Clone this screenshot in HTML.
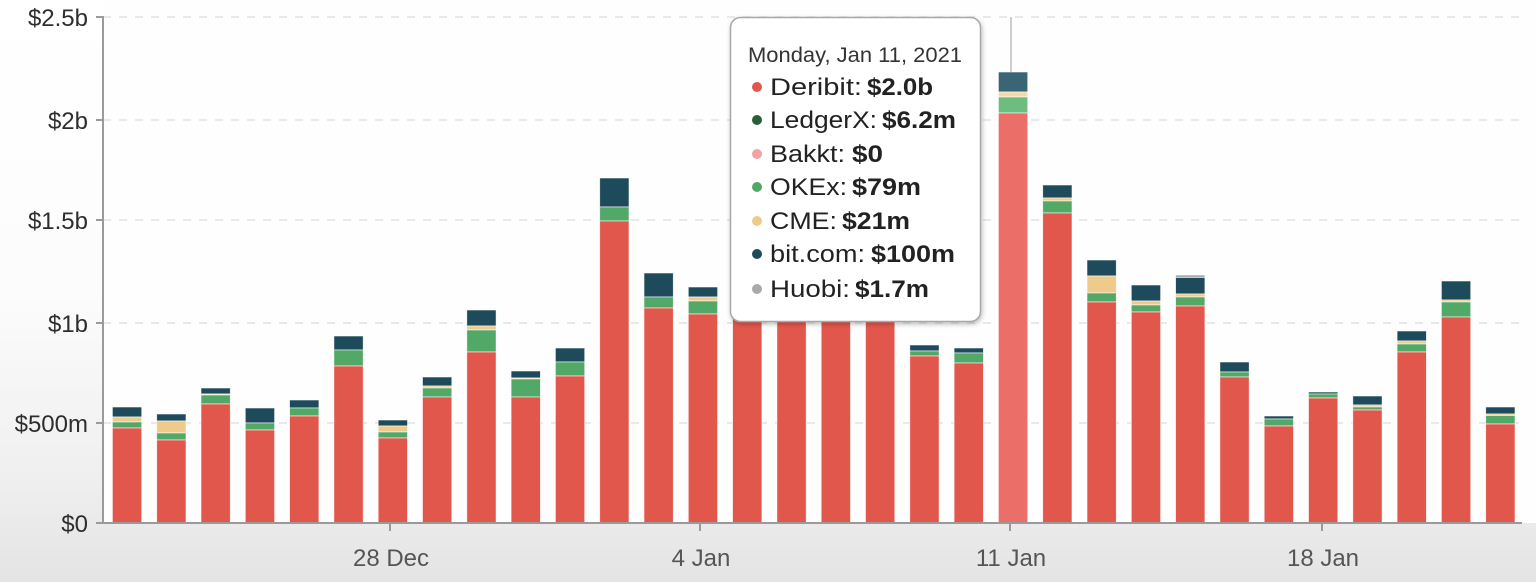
<!DOCTYPE html>
<html><head><meta charset="utf-8"><style>
html,body{margin:0;padding:0;width:1536px;height:582px;overflow:hidden;background:#fff}
svg{display:block}
text{font-family:"Liberation Sans",sans-serif}
</style></head><body>
<svg width="1536" height="582" viewBox="0 0 1536 582" xmlns="http://www.w3.org/2000/svg">
<defs>
<linearGradient id="bg" x1="0" y1="0" x2="0" y2="1">
<stop offset="0" stop-color="#ffffff"/>
<stop offset="0.5" stop-color="#fcfcfc"/>
<stop offset="0.8" stop-color="#f0f0f0"/>
<stop offset="1" stop-color="#e4e4e4"/>
</linearGradient>
<filter id="sh" x="-10%" y="-10%" width="120%" height="120%">
<feDropShadow dx="1" dy="2" stdDeviation="2.5" flood-color="#000" flood-opacity="0.25"/>
</filter>
</defs>
<rect x="0" y="0" width="1536" height="582" fill="url(#bg)"/>
<rect x="103" y="0" width="1433" height="523" fill="#fefefe"/>
<g stroke="#e2e2e2" stroke-width="1.5" stroke-dasharray="8,8">
<line x1="103" y1="17" x2="1522" y2="17"/>
<line x1="103" y1="120" x2="1522" y2="120"/>
<line x1="103" y1="220" x2="1522" y2="220"/>
<line x1="103" y1="323" x2="1522" y2="323"/>
<line x1="103" y1="423" x2="1522" y2="423"/>
</g>
<g stroke="#ffffff" stroke-width="0.8" stroke-opacity="0.7">
<g><rect x="112.4" y="407" width="29.3" height="10" fill="#1e4b5b"/><rect x="112.4" y="417" width="29.3" height="5" fill="#eecb8b"/><rect x="112.4" y="422" width="29.3" height="6" fill="#52a867"/><rect x="112.4" y="428" width="29.3" height="95" fill="#e2574c"/></g>
<g><rect x="156.7" y="414" width="29.3" height="7" fill="#1e4b5b"/><rect x="156.7" y="421" width="29.3" height="12" fill="#eecb8b"/><rect x="156.7" y="433" width="29.3" height="7" fill="#52a867"/><rect x="156.7" y="440" width="29.3" height="83" fill="#e2574c"/></g>
<g><rect x="201.0" y="388" width="29.3" height="6" fill="#1e4b5b"/><rect x="201.0" y="394" width="29.3" height="1" fill="#eecb8b"/><rect x="201.0" y="395" width="29.3" height="9" fill="#52a867"/><rect x="201.0" y="404" width="29.3" height="119" fill="#e2574c"/></g>
<g><rect x="245.3" y="408" width="29.3" height="15" fill="#1e4b5b"/><rect x="245.3" y="423" width="29.3" height="7" fill="#52a867"/><rect x="245.3" y="430" width="29.3" height="93" fill="#e2574c"/></g>
<g><rect x="289.6" y="400" width="29.3" height="8" fill="#1e4b5b"/><rect x="289.6" y="408" width="29.3" height="8" fill="#52a867"/><rect x="289.6" y="416" width="29.3" height="107" fill="#e2574c"/></g>
<g><rect x="333.9" y="336" width="29.3" height="14" fill="#1e4b5b"/><rect x="333.9" y="350" width="29.3" height="16" fill="#52a867"/><rect x="333.9" y="366" width="29.3" height="157" fill="#e2574c"/></g>
<g><rect x="378.2" y="420" width="29.3" height="6" fill="#1e4b5b"/><rect x="378.2" y="426" width="29.3" height="6" fill="#eecb8b"/><rect x="378.2" y="432" width="29.3" height="6" fill="#52a867"/><rect x="378.2" y="438" width="29.3" height="85" fill="#e2574c"/></g>
<g><rect x="422.5" y="377" width="29.3" height="9" fill="#1e4b5b"/><rect x="422.5" y="386" width="29.3" height="2" fill="#eecb8b"/><rect x="422.5" y="388" width="29.3" height="9" fill="#52a867"/><rect x="422.5" y="397" width="29.3" height="126" fill="#e2574c"/></g>
<g><rect x="466.8" y="310" width="29.3" height="16" fill="#1e4b5b"/><rect x="466.8" y="326" width="29.3" height="4" fill="#eecb8b"/><rect x="466.8" y="330" width="29.3" height="22" fill="#52a867"/><rect x="466.8" y="352" width="29.3" height="171" fill="#e2574c"/></g>
<g><rect x="511.1" y="371" width="29.3" height="7" fill="#1e4b5b"/><rect x="511.1" y="378" width="29.3" height="1" fill="#eecb8b"/><rect x="511.1" y="379" width="29.3" height="18" fill="#52a867"/><rect x="511.1" y="397" width="29.3" height="126" fill="#e2574c"/></g>
<g><rect x="555.4" y="348" width="29.3" height="14" fill="#1e4b5b"/><rect x="555.4" y="362" width="29.3" height="14" fill="#52a867"/><rect x="555.4" y="376" width="29.3" height="147" fill="#e2574c"/></g>
<g><rect x="599.7" y="178" width="29.3" height="29" fill="#1e4b5b"/><rect x="599.7" y="207" width="29.3" height="14" fill="#52a867"/><rect x="599.7" y="221" width="29.3" height="302" fill="#e2574c"/></g>
<g><rect x="644.0" y="273" width="29.3" height="24" fill="#1e4b5b"/><rect x="644.0" y="297" width="29.3" height="11" fill="#52a867"/><rect x="644.0" y="308" width="29.3" height="215" fill="#e2574c"/></g>
<g><rect x="688.3" y="287" width="29.3" height="10" fill="#1e4b5b"/><rect x="688.3" y="297" width="29.3" height="4" fill="#eecb8b"/><rect x="688.3" y="301" width="29.3" height="13" fill="#52a867"/><rect x="688.3" y="314" width="29.3" height="209" fill="#e2574c"/></g>
<g><rect x="732.6" y="230" width="29.3" height="293" fill="#e2574c"/></g>
<g><rect x="776.9" y="240" width="29.3" height="283" fill="#e2574c"/></g>
<g><rect x="821.2" y="230" width="29.3" height="293" fill="#e2574c"/></g>
<g><rect x="865.5" y="250" width="29.3" height="273" fill="#e2574c"/></g>
<g><rect x="909.8" y="345" width="29.3" height="6" fill="#1e4b5b"/><rect x="909.8" y="351" width="29.3" height="5" fill="#52a867"/><rect x="909.8" y="356" width="29.3" height="167" fill="#e2574c"/></g>
<g><rect x="954.1" y="348" width="29.3" height="5" fill="#1e4b5b"/><rect x="954.1" y="353" width="29.3" height="10" fill="#52a867"/><rect x="954.1" y="363" width="29.3" height="160" fill="#e2574c"/></g>
<g><rect x="998.4" y="72" width="29.3" height="20" fill="#3a6574"/><rect x="998.4" y="92" width="29.3" height="5" fill="#f3dba8"/><rect x="998.4" y="97" width="29.3" height="16" fill="#6dbd81"/><rect x="998.4" y="113" width="29.3" height="410" fill="#ec6e68"/></g>
<g><rect x="1042.7" y="185" width="29.3" height="13" fill="#1e4b5b"/><rect x="1042.7" y="198" width="29.3" height="3" fill="#eecb8b"/><rect x="1042.7" y="201" width="29.3" height="12" fill="#52a867"/><rect x="1042.7" y="213" width="29.3" height="310" fill="#e2574c"/></g>
<g><rect x="1087.0" y="260" width="29.3" height="16" fill="#1e4b5b"/><rect x="1087.0" y="276" width="29.3" height="17" fill="#eecb8b"/><rect x="1087.0" y="293" width="29.3" height="9" fill="#52a867"/><rect x="1087.0" y="302" width="29.3" height="221" fill="#e2574c"/></g>
<g><rect x="1131.3" y="285" width="29.3" height="16" fill="#1e4b5b"/><rect x="1131.3" y="301" width="29.3" height="4" fill="#eecb8b"/><rect x="1131.3" y="305" width="29.3" height="7" fill="#52a867"/><rect x="1131.3" y="312" width="29.3" height="211" fill="#e2574c"/></g>
<g><rect x="1175.6" y="275" width="29.3" height="2.5" fill="#aaaaaa"/><rect x="1175.6" y="277.5" width="29.3" height="16.5" fill="#1e4b5b"/><rect x="1175.6" y="294" width="29.3" height="3" fill="#eecb8b"/><rect x="1175.6" y="297" width="29.3" height="9" fill="#52a867"/><rect x="1175.6" y="306" width="29.3" height="217" fill="#e2574c"/></g>
<g><rect x="1219.9" y="362" width="29.3" height="10" fill="#1e4b5b"/><rect x="1219.9" y="372" width="29.3" height="5" fill="#52a867"/><rect x="1219.9" y="377" width="29.3" height="146" fill="#e2574c"/></g>
<g><rect x="1264.2" y="416" width="29.3" height="3" fill="#1e4b5b"/><rect x="1264.2" y="419" width="29.3" height="7" fill="#52a867"/><rect x="1264.2" y="426" width="29.3" height="97" fill="#e2574c"/></g>
<g><rect x="1308.5" y="392" width="29.3" height="2" fill="#1e4b5b"/><rect x="1308.5" y="394" width="29.3" height="4" fill="#52a867"/><rect x="1308.5" y="398" width="29.3" height="125" fill="#e2574c"/></g>
<g><rect x="1352.8" y="396" width="29.3" height="9" fill="#1e4b5b"/><rect x="1352.8" y="405" width="29.3" height="2" fill="#eecb8b"/><rect x="1352.8" y="407" width="29.3" height="3" fill="#52a867"/><rect x="1352.8" y="410" width="29.3" height="113" fill="#e2574c"/></g>
<g><rect x="1397.1" y="331" width="29.3" height="10" fill="#1e4b5b"/><rect x="1397.1" y="341" width="29.3" height="3" fill="#eecb8b"/><rect x="1397.1" y="344" width="29.3" height="8" fill="#52a867"/><rect x="1397.1" y="352" width="29.3" height="171" fill="#e2574c"/></g>
<g><rect x="1441.4" y="281" width="29.3" height="19" fill="#1e4b5b"/><rect x="1441.4" y="300" width="29.3" height="2" fill="#eecb8b"/><rect x="1441.4" y="302" width="29.3" height="15" fill="#52a867"/><rect x="1441.4" y="317" width="29.3" height="206" fill="#e2574c"/></g>
<g><rect x="1485.7" y="407" width="29.3" height="7" fill="#1e4b5b"/><rect x="1485.7" y="414" width="29.3" height="1.5" fill="#eecb8b"/><rect x="1485.7" y="415.5" width="29.3" height="8.5" fill="#52a867"/><rect x="1485.7" y="424" width="29.3" height="99" fill="#e2574c"/></g>
</g>
<line x1="103" y1="16" x2="103" y2="524" stroke="#9a9a9a" stroke-width="2"/>
<line x1="96" y1="523" x2="1522" y2="523" stroke="#9a9a9a" stroke-width="2"/>
<g stroke="#9a9a9a" stroke-width="2">
<line x1="96" y1="17" x2="103" y2="17"/>
<line x1="96" y1="120" x2="103" y2="120"/>
<line x1="96" y1="220" x2="103" y2="220"/>
<line x1="96" y1="323" x2="103" y2="323"/>
<line x1="96" y1="423" x2="103" y2="423"/>
<line x1="390" y1="523" x2="390" y2="531"/>
<line x1="700" y1="523" x2="700" y2="531"/>
<line x1="1010" y1="523" x2="1010" y2="531"/>
<line x1="1322" y1="523" x2="1322" y2="531"/>
</g>
<g font-size="24" fill="#2e2e2e" text-anchor="end">
<text x="88" y="26">$2.5b</text>
<text x="88" y="129">$2b</text>
<text x="88" y="229">$1.5b</text>
<text x="88" y="332">$1b</text>
<text x="88" y="432">$500m</text>
<text x="88" y="532">$0</text>
</g>
<g font-size="24" fill="#555" text-anchor="middle">
<text x="391" y="566">28 Dec</text>
<text x="701" y="566">4 Jan</text>
<text x="1011" y="566">11 Jan</text>
<text x="1323" y="566">18 Jan</text>
</g>
<line x1="1011" y1="17" x2="1011" y2="72" stroke="#bdbdbd" stroke-width="1.5"/>
<rect x="730.5" y="17.5" width="250" height="304" rx="10" ry="10" fill="#ffffff" stroke="#a8a8a8" stroke-width="1.5" filter="url(#sh)"/>
<text x="748" y="62" font-size="21" fill="#333" textLength="214" lengthAdjust="spacingAndGlyphs">Monday, Jan 11, 2021</text>
<circle cx="757" cy="87" r="5" fill="#e2574c"/>
<circle cx="757" cy="120" r="5" fill="#2b5e3a"/>
<circle cx="757" cy="154" r="5" fill="#f0a3a3"/>
<circle cx="757" cy="187" r="5" fill="#52a867"/>
<circle cx="757" cy="221" r="5" fill="#eecb8b"/>
<circle cx="757" cy="254" r="5" fill="#1e4b5b"/>
<circle cx="757" cy="289" r="5" fill="#aaaaaa"/>
<g font-size="24" fill="#222">
<text x="770" y="95" textLength="92" lengthAdjust="spacingAndGlyphs">Deribit:</text>
<text x="867" y="95" font-weight="bold" textLength="66" lengthAdjust="spacingAndGlyphs">$2.0b</text>
<text x="770" y="128" textLength="107" lengthAdjust="spacingAndGlyphs">LedgerX:</text>
<text x="882" y="128" font-weight="bold" textLength="74" lengthAdjust="spacingAndGlyphs">$6.2m</text>
<text x="770" y="162" textLength="75" lengthAdjust="spacingAndGlyphs">Bakkt:</text>
<text x="852" y="162" font-weight="bold" textLength="31" lengthAdjust="spacingAndGlyphs">$0</text>
<text x="770" y="195" textLength="77" lengthAdjust="spacingAndGlyphs">OKEx:</text>
<text x="852" y="195" font-weight="bold" textLength="69" lengthAdjust="spacingAndGlyphs">$79m</text>
<text x="770" y="229" textLength="67" lengthAdjust="spacingAndGlyphs">CME:</text>
<text x="842" y="229" font-weight="bold" textLength="68" lengthAdjust="spacingAndGlyphs">$21m</text>
<text x="770" y="262" textLength="95" lengthAdjust="spacingAndGlyphs">bit.com:</text>
<text x="871" y="262" font-weight="bold" textLength="84" lengthAdjust="spacingAndGlyphs">$100m</text>
<text x="770" y="297" textLength="80" lengthAdjust="spacingAndGlyphs">Huobi:</text>
<text x="855" y="297" font-weight="bold" textLength="74" lengthAdjust="spacingAndGlyphs">$1.7m</text>
</g>
</svg>
</body></html>
